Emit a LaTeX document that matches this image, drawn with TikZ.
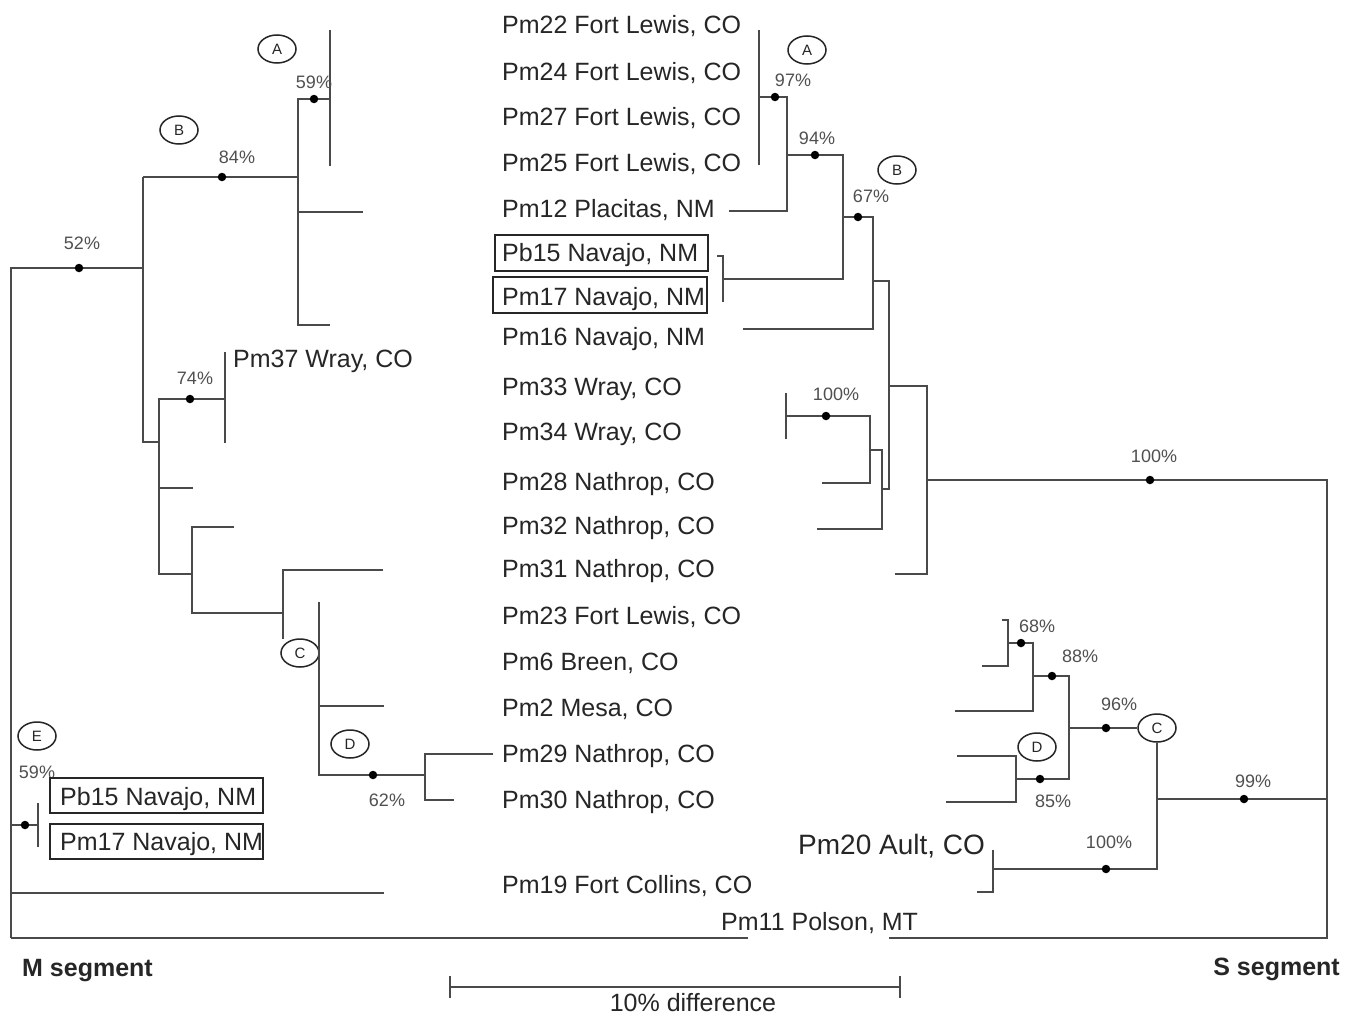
\documentclass[tikz,border=0pt]{standalone}
\usepackage{fontspec}
\setmainfont{Liberation Sans}
\usetikzlibrary{shapes.geometric}
\definecolor{ln}{HTML}{4A4A4A}
\definecolor{tx}{HTML}{262626}
\definecolor{pc}{HTML}{505050}
\begin{document}
\begin{tikzpicture}[x=1pt,y=-1pt,
  br/.style={draw=ln, line width=1.3pt},
  lab/.style={anchor=base west, inner sep=0, font=\fontsize{25}{25}\selectfont, text=tx},
  pct/.style={inner sep=0, font=\fontsize{18}{18}\selectfont, text=pc},
  dot/.style={circle, fill=black, inner sep=0, minimum size=8.5pt},
  cl/.style={ellipse, draw=black!85, line width=1.5pt, minimum width=38pt, minimum height=28pt, inner sep=0, font=\fontsize{15}{15}\selectfont, text=black!85},
  bx/.style={draw=black!85, line width=1.5pt}]
\useasboundingbox (0,0) rectangle (1354,1017);
\fill[white] (0,0) rectangle (1354,1017);

% ---------------- M segment (left) ----------------
\draw[br] (11,938) -- (11,268) -- (143,268);
\draw[br] (143,177) -- (143,442) -- (159,442);
\draw[br] (143,177) -- (298,177);
\draw[br] (330,99) -- (298,99) -- (298,325) -- (330,325);
\draw[br] (298,212) -- (363,212);
\draw[br] (330,30) -- (330,166);
\draw[br] (225,399) -- (159,399) -- (159,574) -- (192,574);
\draw[br] (225,352) -- (225,443);
\draw[br] (159,488) -- (193,488);
\draw[br] (234,527) -- (192,527) -- (192,613) -- (283,613);
\node[cl] (lC) at (300,653) {C};
\draw[br] (383,570) -- (283,570) -- (283,639);
\draw[br] (319,602) -- (319,775) -- (425,775);
\draw[br] (319,706) -- (384,706);
\draw[br] (493,754) -- (425,754) -- (425,800) -- (454,800);
\draw[br] (11,825) -- (38,825);
\draw[br] (38,803) -- (38,847);
\draw[br] (11,893) -- (384,893);
\draw[br] (11,938) -- (748,938);

\node[dot] (d52) at (79,268) {};
\node[dot] (d84) at (222,177) {};
\node[dot] (d59) at (314,99) {};
\node[dot] (d74) at (190,399) {};
\node[dot] (d62) at (373,775) {};
\node[dot] (dE) at (25,825) {};
\node[pct] (p52) at (82,243) {52\%};
\node[pct] (p84) at (237,157) {84\%};
\node[pct] (p59) at (314,82) {59\%};
\node[pct] (p74) at (195,378) {74\%};
\node[pct] (p62) at (387,800) {62\%};
\node[pct] (pE) at (37,772) {59\%};

\node[cl] (lA) at (277,49) {A};
\node[cl] (lB) at (179,130) {B};
\node[cl] (lD) at (350,744) {D};
\node[cl] (lE) at (37,736) {E};

\draw[bx] (50,778) rectangle (263,813);
\draw[bx] (50,824) rectangle (263,859);
\node[lab] (tPb15L) at (60,805) {Pb15 Navajo, NM};
\node[lab] (tPm17L) at (60,850) {Pm17 Navajo, NM};
\node[lab] (tPm37) at (233,367) {Pm37 Wray, CO};

% ---------------- S segment (right) ----------------
\draw[br] (759,30) -- (759,165);
\draw[br] (759,97) -- (787,97) -- (787,211) -- (729,211);
\draw[br] (787,155) -- (843,155) -- (843,279) -- (723,279);
\draw[br] (717,256) -- (723,256) -- (723,302);
\draw[br] (843,217) -- (873,217) -- (873,329) -- (743,329);
\draw[br] (873,281) -- (889,281) -- (889,489) -- (882,489);
\draw[br] (889,386) -- (927,386) -- (927,574) -- (895,574);
\draw[br] (786,393) -- (786,439);
\draw[br] (786,416) -- (870,416) -- (870,483) -- (822,483);
\draw[br] (870,450) -- (882,450) -- (882,529) -- (817,529);
\draw[br] (889,938) -- (1327,938) -- (1327,480) -- (927,480);

\node[cl] (rC) at (1157,728) {C};
\draw[br] (1002,620) -- (1008,620) -- (1008,666) -- (982,666);
\draw[br] (1008,643) -- (1033,643) -- (1033,711) -- (955,711);
\draw[br] (1033,676) -- (1069,676) -- (1069,779) -- (1016,779);
\draw[br] (957,756) -- (1016,756) -- (1016,802) -- (946,802);
\draw[br] (1069,728) -- (rC.west);
\draw[br] (rC.south) -- (1157,869) -- (993,869);
\draw[br] (993,850) -- (993,892) -- (977,892);
\draw[br] (1157,799) -- (1327,799);

\node[dot] (d97) at (775,97) {};
\node[dot] (d94) at (815,155) {};
\node[dot] (d67) at (858,217) {};
\node[dot] (d100a) at (826,416) {};
\node[dot] (d100b) at (1150,480) {};
\node[dot] (d68) at (1021,643) {};
\node[dot] (d88) at (1052,676) {};
\node[dot] (d96) at (1106,728) {};
\node[dot] (d85) at (1040,779) {};
\node[dot] (d100c) at (1106,869) {};
\node[dot] (d99) at (1244,799) {};
\node[pct] (p97) at (793,80) {97\%};
\node[pct] (p94) at (817,138) {94\%};
\node[pct] (p67) at (871,196) {67\%};
\node[pct] (p100a) at (836,394) {100\%};
\node[pct] (p100b) at (1154,456) {100\%};
\node[pct] (p68) at (1037,626) {68\%};
\node[pct] (p88) at (1080,656) {88\%};
\node[pct] (p96) at (1119,704) {96\%};
\node[pct] (p85) at (1053,801) {85\%};
\node[pct] (p100c) at (1109,842) {100\%};
\node[pct] (p99) at (1253,781) {99\%};

\node[cl] (rA) at (807,50) {A};
\node[cl] (rB) at (897,170) {B};
\node[cl] (rD) at (1037,747) {D};

% ---------------- taxa labels ----------------
\draw[bx] (495,235) rectangle (708,271);
\draw[bx] (493,277) rectangle (707,313);
\node[lab] (t22) at (502,33) {Pm22 Fort Lewis, CO};
\node[lab] (t24) at (502,80) {Pm24 Fort Lewis, CO};
\node[lab] (t27) at (502,125) {Pm27 Fort Lewis, CO};
\node[lab] (t25) at (502,171) {Pm25 Fort Lewis, CO};
\node[lab] (t12) at (502,217) {Pm12 Placitas, NM};
\node[lab] (t15) at (502,261) {Pb15 Navajo, NM};
\node[lab] (t17) at (502,305) {Pm17 Navajo, NM};
\node[lab] (t16) at (502,345) {Pm16 Navajo, NM};
\node[lab] (t33) at (502,395) {Pm33 Wray, CO};
\node[lab] (t34) at (502,440) {Pm34 Wray, CO};
\node[lab] (t28) at (502,490) {Pm28 Nathrop, CO};
\node[lab] (t32) at (502,534) {Pm32 Nathrop, CO};
\node[lab] (t31) at (502,577) {Pm31 Nathrop, CO};
\node[lab] (t23) at (502,624) {Pm23 Fort Lewis, CO};
\node[lab] (t6) at (502,670) {Pm6 Breen, CO};
\node[lab] (t2) at (502,716) {Pm2 Mesa, CO};
\node[lab] (t29) at (502,762) {Pm29 Nathrop, CO};
\node[lab] (t30) at (502,808) {Pm30 Nathrop, CO};
\node[lab] (t19) at (502,893) {Pm19 Fort Collins, CO};
\node[lab] (t11) at (721,930) {Pm11 Polson, MT};
\node[lab, font=\fontsize{28}{28}\selectfont] (t20) at (798,854) {Pm20 Ault, CO};

% ---------------- captions & scale ----------------
\node[anchor=base west, inner sep=0, font=\bfseries\fontsize{25}{25}\selectfont, text=tx] (mseg) at (22,976) {M segment};
\node[anchor=base east, inner sep=0, font=\bfseries\fontsize{25}{25}\selectfont, text=tx] (sseg) at (1340,975) {S segment};
\coordinate (sb1) at (450,987);
\coordinate (sb2) at (900,987);
\draw[br, line width=1.8pt] (sb1) -- (sb2);
\draw[br, line width=1.8pt] (450,976) -- (450,998);
\draw[br, line width=1.8pt] (900,976) -- (900,998);
\node[anchor=base, inner sep=0, font=\fontsize{25}{25}\selectfont, text=tx] (sbl) at (693,1011) {10\% difference};
\end{tikzpicture}
\end{document}
